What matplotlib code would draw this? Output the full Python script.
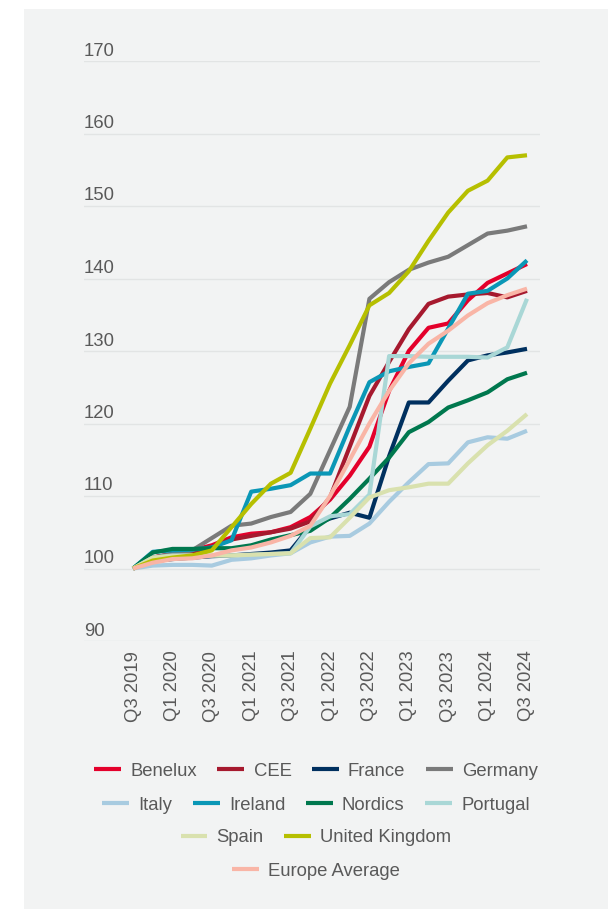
import matplotlib.pyplot as plt
from matplotlib.patches import Rectangle
from matplotlib.transforms import ScaledTranslation

# quarterly index, Q3 2019 = 100
quarters = list(range(21))
tick_pos = list(range(0, 21, 2))
tick_labels = ["Q3 2019", "Q1 2020", "Q3 2020", "Q1 2021", "Q3 2021", "Q1 2022",
               "Q3 2022", "Q1 2023", "Q3 2023", "Q1 2024", "Q3 2024"]

benelux = [100, 101.5, 102, 102.5, 103.2, 104.3, 104.8, 105, 105.7, 107.1, 109.5,
           112.8, 116.8, 124.5, 130, 133.2, 133.8, 137, 139.4, 140.7, 142]
cee = [100, 101.5, 102, 102.3, 103, 104, 104.5, 105, 105.5, 106.5, 109.8,
       116.8, 123.8, 128.5, 133, 136.5, 137.5, 137.8, 138, 137.4, 138.3]
france = [100, 101, 101.3, 101.5, 101.7, 101.8, 102, 102.2, 102.5, 105.8, 106.9,
          107.7, 107, 115.5, 122.9, 122.9, 125.9, 128.7, 129.4, 129.8, 130.3]
germany = [100, 101.5, 102, 102.5, 104.2, 105.9, 106.2, 107.1, 107.8, 110.3, 116.3,
           122.3, 137.2, 139.5, 141.2, 142.2, 143, 144.6, 146.2, 146.6, 147.2]
italy = [100, 100.4, 100.5, 100.5, 100.4, 101.2, 101.4, 101.8, 102.1, 103.6, 104.4,
         104.5, 106.2, 109.2, 111.9, 114.4, 114.5, 117.4, 118.1, 117.9, 119]
ireland = [100, 102.3, 102.5, 102.6, 102.9, 103.9, 110.6, 111, 111.5, 113.1, 113.1,
           119.6, 125.7, 127.2, 127.8, 128.3, 133.1, 137.9, 138.3, 140, 142.5]
nordics = [100, 102.2, 102.7, 102.7, 102.8, 102.8, 103.2, 104, 104.6, 105.2, 107,
           109.6, 112.4, 115.3, 118.8, 120.2, 122.2, 123.2, 124.3, 126.1, 127]
portugal = [100, 101.5, 101.8, 101.8, 101.8, 101.8, 101.9, 102, 102.1, 105.8, 107.2,
            107.5, 110.2, 129.3, 129.3, 129.2, 129.2, 129.2, 129.1, 130.5, 137.2]
spain = [100, 101.5, 101.7, 101.8, 101.8, 101.8, 101.9, 102, 102.1, 104.2, 104.3,
         107, 109.8, 110.8, 111.2, 111.7, 111.7, 114.5, 117, 119, 121.3]
uk = [100, 101.1, 101.5, 101.8, 102.5, 105.7, 108.9, 111.7, 113.2, 119.3, 125.5,
      130.8, 136.3, 138, 141, 145.2, 149.1, 152.1, 153.5, 156.7, 157]
europe = [100, 100.8, 101.3, 101.4, 101.8, 102.5, 102.9, 103.6, 104.5, 105.9, 110,
          115, 120, 124.5, 128.3, 131, 132.8, 134.9, 136.6, 137.7, 138.6]

series = [
    ("Benelux", benelux, "#e4002b"),
    ("CEE", cee, "#a6192e"),
    ("France", france, "#00305f"),
    ("Germany", germany, "#7a7a7a"),
    ("Italy", italy, "#a8cbe0"),
    ("Ireland", ireland, "#0a97b6"),
    ("Nordics", nordics, "#00784e"),
    ("Portugal", portugal, "#a9d7d6"),
    ("Spain", spain, "#d9e1ae"),
    ("United Kingdom", uk, "#b6bf00"),
    ("Europe Average", europe, "#f9b5a6"),
]

plt.rcParams["font.family"] = ["Liberation Sans", "DejaVu Sans"]
text_col = "#595959"

fig = plt.figure(figsize=(6.1, 9.09), dpi=100)
fig.patches.append(Rectangle((24 / 610, 0), (608 - 24) / 610, 1 - 9 / 909,
                             transform=fig.transFigure, facecolor="#f2f3f3",
                             edgecolor="none", zorder=-10))

ax = fig.add_axes([84 / 610, 1 - 641 / 909, (540 - 84) / 610, (641 - 61) / 909])
ax.set_facecolor("none")

handles = {}
for name, vals, col in series:
    ln, = ax.plot(quarters, vals, color=col, lw=3, label=name, solid_capstyle="butt")
    handles[name] = ln

ax.set_xlim(-2.49, 20.66)
ax.set_ylim(90, 170)
ax.set_yticks(range(90, 171, 10))
ax.grid(axis="y", color="#e2e4e4", lw=1)
ax.set_axisbelow(True)
for s in ax.spines.values():
    s.set_visible(False)

ax.set_xticks(tick_pos)
ax.set_xticklabels(tick_labels, rotation=90, fontsize=13.3, color=text_col)
ax.tick_params(axis="x", length=0, pad=7)
ax.tick_params(axis="y", length=0, pad=0, labelsize=13.3, labelcolor=text_col)
off = ScaledTranslation(0, 0.12, fig.dpi_scale_trans)
for lab in ax.get_yticklabels():
    lab.set_horizontalalignment("left")
    lab.set_transform(lab.get_transform() + off)

rows = [["Benelux", "CEE", "France", "Germany"],
        ["Italy", "Ireland", "Nordics", "Portugal"],
        ["Spain", "United Kingdom"],
        ["Europe Average"]]
row_y = [771, 805, 838, 871]
for names, y in zip(rows, row_y):
    leg = fig.legend([handles[n] for n in names], names, loc="center",
                     bbox_to_anchor=(316 / 610, 1 - y / 909), ncol=len(names),
                     frameon=False, fontsize=13.3, handlelength=1.46,
                     handletextpad=0.5, columnspacing=1.1, borderpad=0,
                     borderaxespad=0)
    for t in leg.get_texts():
        t.set_color(text_col)

fig.savefig("out.png", dpi=100)
